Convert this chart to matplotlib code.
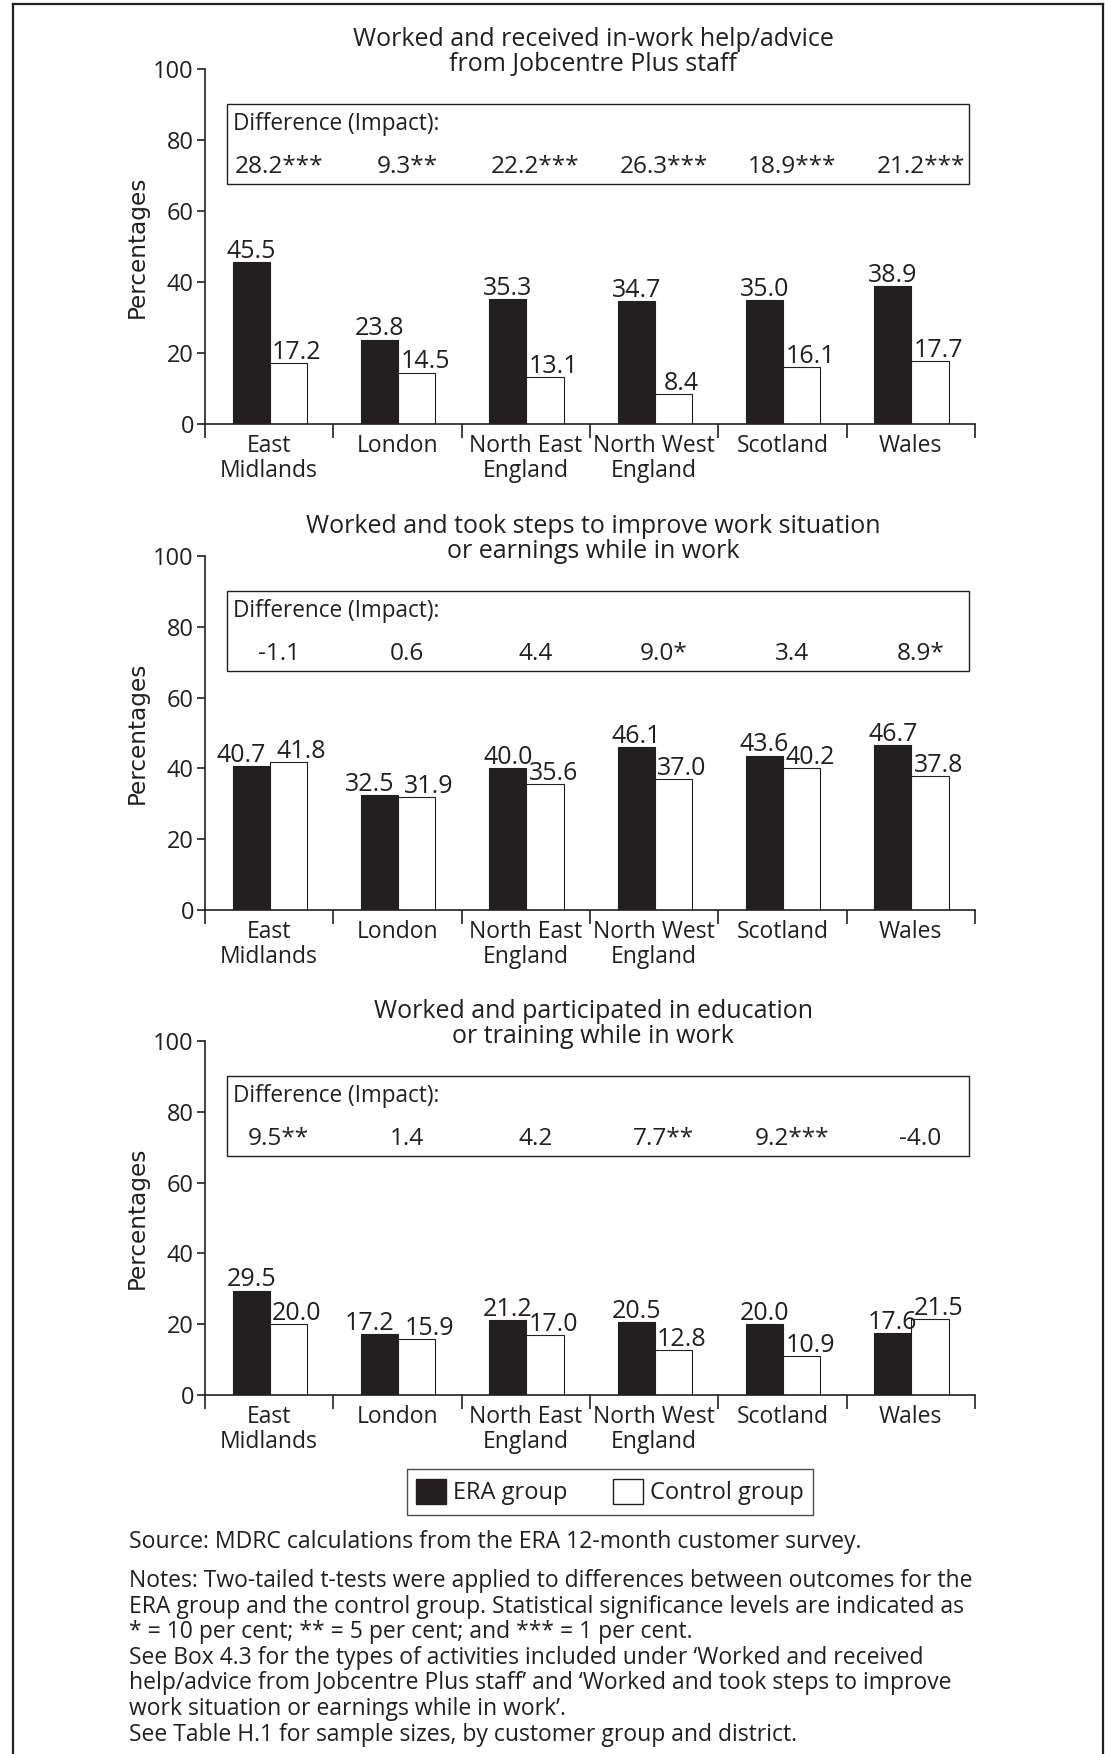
import numpy as np
import matplotlib
matplotlib.use("Agg")
from matplotlib import pyplot as plt
from matplotlib.patches import Rectangle, Patch
from matplotlib.lines import Line2D

plt.rcParams["font.family"] = ["Open Sans", "DejaVu Sans"]
INK = "#231f20"

districts = ["East\nMidlands", "London", "North East\nEngland", "North West\nEngland", "Scotland", "Wales"]

help_title = "Worked and received in-work help/advice\nfrom Jobcentre Plus staff"
help_era = [45.5, 23.8, 35.3, 34.7, 35.0, 38.9]
help_control = [17.2, 14.5, 13.1, 8.4, 16.1, 17.7]
help_impact = ["28.2***", "9.3**", "22.2***", "26.3***", "18.9***", "21.2***"]

steps_title = "Worked and took steps to improve work situation\nor earnings while in work"
steps_era = [40.7, 32.5, 40.0, 46.1, 43.6, 46.7]
steps_control = [41.8, 31.9, 35.6, 37.0, 40.2, 37.8]
steps_impact = ["-1.1", "0.6", "4.4", "9.0*", "3.4", "8.9*"]

train_title = "Worked and participated in education\nor training while in work"
train_era = [29.5, 17.2, 21.2, 20.5, 20.0, 17.6]
train_control = [20.0, 15.9, 17.0, 12.8, 10.9, 21.5]
train_impact = ["9.5**", "1.4", "4.2", "7.7**", "9.2***", "-4.0"]

source = "Source: MDRC calculations from the ERA 12-month customer survey."
notes = [
    "Notes: Two-tailed t-tests were applied to differences between outcomes for the",
    "ERA group and the control group. Statistical significance levels are indicated as",
    "* = 10 per cent; ** = 5 per cent; and *** = 1 per cent.",
    "See Box 4.3 for the types of activities included under \u2018Worked and received",
    "help/advice from Jobcentre Plus staff\u2019 and \u2018Worked and took steps to improve",
    "work situation or earnings while in work\u2019.",
    "See Table H.1 for sample sizes, by customer group and district.",
]

W, H = 1105, 1754
fig = plt.figure(figsize=(W / 100, H / 100), dpi=100)


def px_axes(left, right, top, bottom):
    return fig.add_axes([left / W, 1 - bottom / H, (right - left) / W, (bottom - top) / H])


def draw_panel(ax, title, era, control, impact):
    x = np.arange(len(districts)) + 0.505
    w = 0.29
    ax.bar(x - w / 2, era, w, color=INK, edgecolor=INK, linewidth=0.8)
    ax.bar(x + w / 2, control, w, color="white", edgecolor=INK, linewidth=0.8)
    for xi, e, c in zip(x, era, control):
        # push the two labels apart when they sit at nearly the same height
        close = abs(e - c) < 3
        ax.annotate(f"{e:.1f}", (xi - w / 2, e), xytext=(-7 if close else 0, 3),
                    textcoords="offset points", ha="center", va="baseline",
                    fontsize=18, color=INK)
        ax.annotate(f"{c:.1f}", (xi + w / 2, c), xytext=(9 if close else 6, 3),
                    textcoords="offset points", ha="center", va="baseline",
                    fontsize=18, color=INK)

    # impact box
    ax.add_patch(Rectangle((0.171, 67.5), 5.95 - 0.171, 22.7, fill=False,
                           edgecolor=INK, linewidth=1.0))
    ax.text(0.218, 84.6, "Difference (Impact):", ha="left", va="center", fontsize=16.3, color=INK)
    for i, s in enumerate(impact):
        ax.text(i + 0.575, 72.4, s, ha="center", va="center", fontsize=17.6, color=INK)

    ax.text(0.504, 1.049, title, transform=ax.transAxes, ha="center", va="center",
            fontsize=18, color=INK, linespacing=1.0)

    ax.set_xlim(0, 6)
    ax.set_ylim(0, 100)
    ax.set_yticks([0, 20, 40, 60, 80, 100])
    ax.set_xticks(range(7))
    ax.set_xticklabels([])
    ax.set_xticks(np.arange(6) + 0.5, minor=True)
    ax.set_xticklabels(districts, minor=True, linespacing=1.05)
    ax.tick_params(axis="x", which="major", length=10, width=1.2, color=INK)
    ax.tick_params(axis="x", which="minor", length=0, pad=7, labelsize=16.5, labelcolor=INK)
    ax.tick_params(axis="y", length=6, width=1.2, pad=2, labelsize=17, color=INK, labelcolor=INK)
    for side in ["top", "right"]:
        ax.spines[side].set_visible(False)
    for side in ["left", "bottom"]:
        ax.spines[side].set_color(INK)
        ax.spines[side].set_linewidth(1.2)

    ax.set_ylabel("Percentages", fontfamily="DejaVu Sans", fontsize=16.7, color=INK)
    ax.yaxis.set_label_coords(-0.0727, 0.5)


ax1 = px_axes(205, 975, 69, 424)
ax2 = px_axes(205, 975, 556, 910)
ax3 = px_axes(205, 975, 1041, 1395)
draw_panel(ax1, help_title, help_era, help_control, help_impact)
draw_panel(ax2, steps_title, steps_era, steps_control, steps_impact)
draw_panel(ax3, train_title, train_era, train_control, train_impact)

handles = [Patch(facecolor=INK, edgecolor=INK), Patch(facecolor="white", edgecolor=INK)]
leg = fig.legend(handles, ["ERA group", "Control group"], loc="center",
                 bbox_to_anchor=(610 / W, 1 - 1492 / H), ncol=2, fontsize=17,
                 frameon=True, fancybox=False, handlelength=1.27, handleheight=1.3,
                 handletextpad=0.3, columnspacing=1.9, borderpad=0.4, borderaxespad=0)
leg.get_frame().set_edgecolor(INK)
leg.get_frame().set_linewidth(1.0)
for t in leg.get_texts():
    t.set_color(INK)

fig.text(129 / W, 1 - 1542 / H, source, ha="left", va="center", fontsize=16.6, color=INK)
for k, line in enumerate(notes):
    fig.text(129 / W, 1 - (1581 + 25.6 * k) / H, line, ha="left", va="center",
             fontsize=16.5, color=INK)

# outer frame, open at the bottom
for xs, ys in [([13, 13], [H + 5, 4]), ([13, 1103], [4, 4]), ([1103, 1103], [4, H + 5])]:
    fig.add_artist(Line2D([v / W for v in xs], [1 - v / H for v in ys],
                          color=INK, linewidth=1.6))

fig.savefig("out.png", dpi=100)
